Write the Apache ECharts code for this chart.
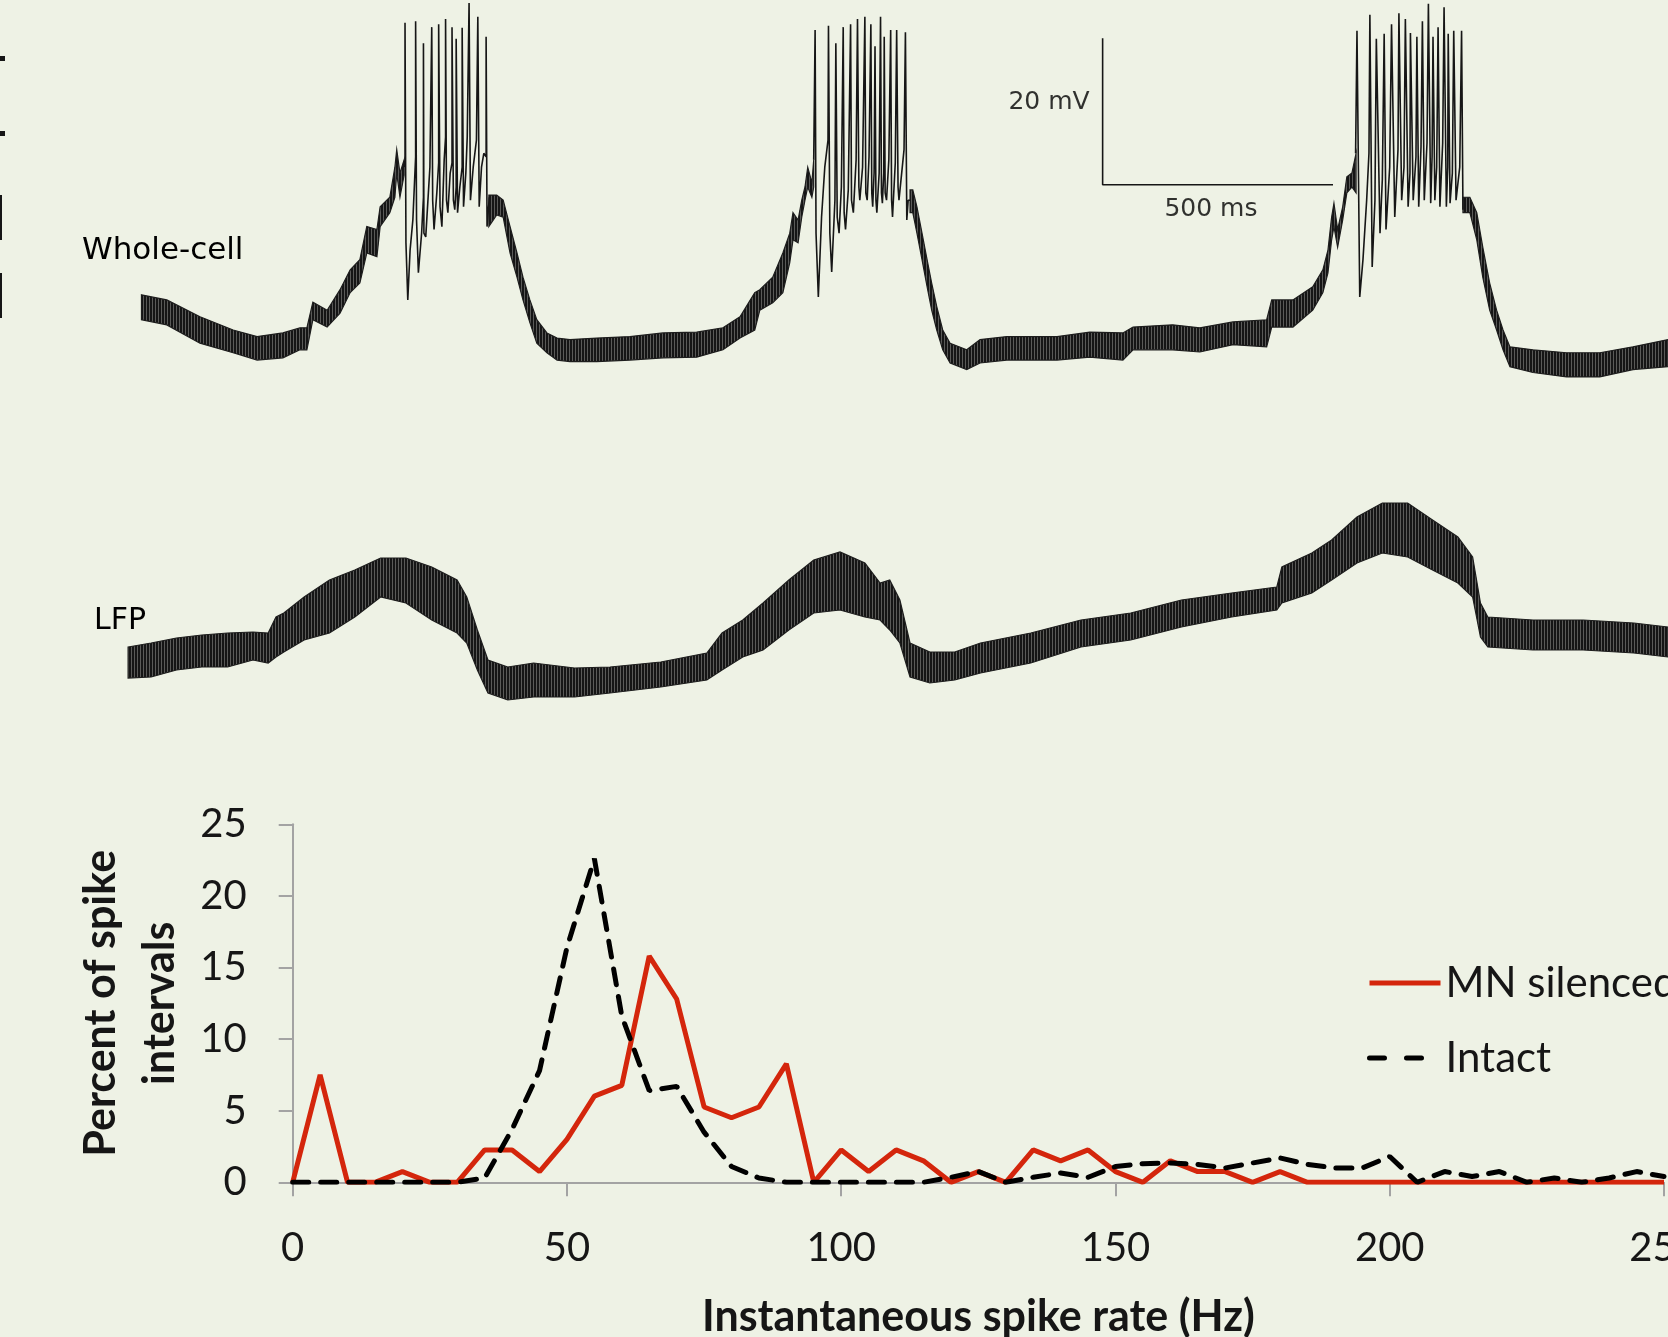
<!DOCTYPE html>
<html>
<head>
<meta charset="utf-8">
<script src="https://cdn.jsdelivr.net/npm/echarts@6/dist/echarts.min.js"></script>
<style>
html, body { margin: 0; padding: 0; background: #eef2e5; }
#main { width: 1668px; height: 1337px; }
</style>
</head>
<body>
<div id="main"></div>
<script>
// whole-cell recording: noisy band segments [ms, low mV, high mV]
var wcBands = [
    [[307,-43.6,-40.2],[362,-44.3,-40.9],[434,-46.8,-43.2],[506,-48.1,-45.0],[558,-49.1,-45.9],[614,-48.8,-45.4],[651,-47.7,-44.7],[666,-47.7,-44.7],[679,-43.6,-41.2],[710,-44.6,-42.3],[738,-42.7,-39.5],[760,-39.9,-36.8],[781,-38.6,-35.4],[796,-34.5,-30.9],[818,-35.0,-31.3],[825,-30.9,-28.2],[846,-29.0,-26.9],[857,-26.9,-22.8],[861,-23.6,-20.4],[868,-26.9,-23.6],[877,-23.9,-21.8]],
    [[1061,-30.9,-26.6],[1078,-29.3,-26.6],[1092,-29.6,-27.3],[1107,-34.5,-30.9],[1122,-37.8,-34.5],[1135,-40.9,-37.8],[1150,-44.0,-40.9],[1165,-46.8,-43.6],[1187,-48.1,-45.4],[1209,-49.1,-46.1],[1237,-49.3,-46.3],[1295,-49.3,-46.1],[1367,-49.1,-45.9],[1439,-48.8,-45.4],[1512,-48.7,-45.3],[1569,-47.7,-44.7],[1606,-46.1,-43.2],[1638,-45.0,-39.9],[1649,-42.3,-39.5],[1677,-41.3,-37.8],[1699,-39.9,-34.5],[1714,-35.8,-31.8],[1721,-32.7,-29.0],[1732,-33.1,-30.0],[1740,-29.6,-27.3],[1747,-27.3,-25.5],[1753,-25.5,-22.8],[1762,-26.9,-24.9],[1766,-25.5,-21.8]],
    [[1975,-29.0,-25.9],[1981,-29.0,-25.9],[1990,-31.8,-28.2],[2001,-35.4,-31.8],[2012,-39.1,-35.4],[2022,-42.3,-38.6],[2033,-45.0,-41.8],[2046,-47.7,-45.0],[2062,-49.5,-46.8],[2098,-50.4,-47.7],[2127,-49.5,-46.3],[2185,-49.1,-45.9],[2294,-49.1,-45.9],[2365,-48.7,-45.3],[2437,-49.1,-45.4],[2459,-47.7,-44.6],[2545,-47.7,-44.3],[2604,-48.0,-44.7],[2676,-47.0,-43.9],[2749,-47.3,-43.6],[2760,-44.6,-40.9],[2806,-44.6,-40.9],[2849,-42.3,-39.1],[2871,-39.9,-36.8],[2882,-37.2,-34.1],[2890,-32.7,-29.6],[2895,-30.9,-27.7],[2903,-33.7,-31.3],[2914,-30.0,-28.2],[2923,-26.3,-24.1],[2934,-25.5,-23.6],[2943,-26.3,-20.9]],
    [[3175,-29.0,-26.9],[3190,-29.0,-26.9],[3205,-32.7,-29.0],[3218,-37.8,-33.7],[3233,-42.3,-38.6],[3248,-45.0,-42.3],[3262,-47.7,-45.0],[3277,-50.0,-47.3],[3327,-50.8,-47.7],[3400,-51.4,-48.1],[3472,-51.4,-48.1],[3544,-50.4,-47.3],[3620,-50.0,-46.3]]
];

// spike bursts [ms, mV]
var burst1 = [[877,-22.8],[879,-21.8],[879,-3.1],[881,-33.1],[885,-40.9],[890,-34.1],[896,-30.0],[902,-21.4],[902,-2.9],[904,-30.0],[908,-37.2],[915,-31.8],[919,-26.9],[919,-5.9],[920,-31.8],[924,-32.3],[933,-22.8],[937,-22.8],[937,-3.7],[939,-27.3],[942,-31.3],[948,-26.3],[952,-22.2],[952,-3.3],[955,-28.2],[959,-30.9],[964,-21.8],[967,-18.7],[967,-2.6],[969,-27.3],[972,-29.0],[977,-23.6],[981,-22.2],[981,-3.7],[984,-27.3],[987,-28.6],[990,-25.5],[990,-5.3],[993,-29.0],[998,-25.5],[1003,-22.8],[1003,-3.8],[1006,-28.2],[1011,-23.6],[1014,-18.7],[1018,-18.7],[1018,-0.4],[1021,-27.3],[1027,-22.8],[1034,-19.1],[1037,-19.1],[1037,-2.3],[1040,-28.2],[1045,-22.8],[1050,-20.9],[1055,-21.4],[1055,-5.0],[1057,-30.9],[1062,-26.9]];
var burst2 = [[1766,-21.8],[1769,-21.8],[1769,-4.1],[1771,-31.8],[1776,-40.5],[1783,-29.6],[1790,-22.8],[1797,-19.1],[1798,-3.5],[1801,-31.8],[1805,-37.1],[1812,-27.3],[1814,-5.9],[1817,-29.6],[1821,-31.8],[1826,-25.5],[1830,-3.7],[1832,-29.0],[1835,-31.3],[1841,-25.9],[1846,-3.3],[1848,-27.3],[1852,-29.0],[1858,-21.8],[1861,-2.6],[1864,-25.5],[1866,-27.3],[1872,-22.8],[1877,-2.3],[1879,-26.3],[1882,-27.3],[1886,-21.4],[1890,-3.3],[1892,-26.3],[1894,-28.2],[1897,-23.6],[1899,-6.3],[1901,-27.3],[1903,-29.0],[1908,-23.6],[1911,-2.3],[1913,-26.3],[1915,-27.7],[1918,-23.6],[1919,-5.0],[1921,-26.3],[1924,-27.3],[1929,-21.8],[1933,-4.1],[1935,-27.3],[1937,-29.6],[1943,-22.2],[1946,-4.1],[1949,-25.5],[1951,-27.3],[1962,-20.4],[1965,-4.4],[1968,-30.0],[1971,-27.3],[1975,-27.3]];
var burst3 = [[2942,-20.9],[2945,-4.2],[2951,-40.5],[2958,-35.4],[2966,-27.3],[2971,-20.9],[2973,-2.0],[2978,-36.4],[2984,-27.3],[2987,-5.3],[2995,-31.8],[3000,-24.5],[3004,-4.6],[3008,-31.3],[3016,-22.8],[3020,-3.3],[3027,-29.6],[3034,-20.4],[3036,-1.8],[3042,-27.3],[3047,-22.8],[3050,-2.6],[3056,-28.2],[3060,-23.6],[3061,-4.5],[3067,-27.3],[3073,-21.4],[3075,-5.0],[3079,-28.2],[3084,-20.0],[3087,-2.9],[3091,-27.3],[3097,-19.5],[3100,-0.5],[3105,-27.7],[3108,-21.4],[3110,-5.0],[3114,-27.3],[3118,-22.8],[3121,-3.7],[3125,-28.2],[3131,-19.5],[3134,-1.0],[3139,-28.2],[3142,-22.8],[3143,-4.6],[3147,-27.7],[3152,-23.6],[3155,-4.2],[3160,-27.3],[3168,-22.8],[3172,-4.2],[3175,-28.6]];

// LFP band [ms, low, high]
var lfpBand = [[278,26,41.5],[328,26.5,43.5],[383,30,46],[438,31.5,47.5],[494,31.5,48.5],[549,35,49],[582,33.5,48.5],[599,36.5,56.5],[616,39,58.5],[660,45,66.5],[715,48.5,75],[770,56.5,80],[826,66.5,86],[881,63.5,86],[937,55,81.5],[992,48.5,75],[1013,43.5,66.5],[1036,30,50],[1059,18.5,35],[1102,15,31.5],[1158,16.5,33.5],[1247,16.5,31],[1324,18.5,31.5],[1434,21.5,34],[1534,25,38.5],[1567,30,48.5],[1612,36.5,55],[1656,40,63.5],[1712,50,75],[1766,58.5,85],[1823,60,89],[1877,56.5,83.5],[1910,55,73.5],[1931,50,75],[1953,43.5,65],[1975,26.5,43.5],[2018,23.5,39],[2072,25,39],[2128,28.5,43.5],[2237,33.5,48.5],[2346,41.5,55],[2454,45,58.5],[2564,51.5,65],[2673,56.5,68.5],[2771,60,71.5],[2782,63.5,81.5],[2847,68.5,88.5],[2890,75,95],[2945,83.5,106.5],[3000,88.5,113.5],[3055,86.5,113.5],[3109,80,105],[3164,73.5,96.5],[3196,66.5,86.5],[3213,46.5,63.5],[3229,41.5,56.5],[3327,40,55],[3436,40,55],[3546,38.5,53.5],[3620,36.5,51.5]];

// scale bar: 20 mV / 500 ms
var scaleBar = [[2393,-5.2],[2393,-25.2],[2893,-25.2]];

// histogram of instantaneous spike rate
var rates = [0,5,10,15,20,25,30,35,40,45,50,55,60,65,70,75,80,85,90,95,100,105,110,115,120,125,130,135,140,145,150,155,160,165,170,175,180,185,190,195,200,205,210,215,220,225,230,235,240,245,250];
var mnSilenced = [0,7.5,0,0,0.75,0,0,2.26,2.26,0.75,3.0,6.02,6.77,15.8,12.8,5.26,4.51,5.26,8.27,0,2.26,0.75,2.26,1.5,0,0.75,0,2.26,1.5,2.26,0.75,0,1.5,0.75,0.75,0,0.75,0,0,0,0,0,0,0,0,0,0,0,0,0,0];
var intact = [0,0,0,0,0,0,0,0.3,3.7,7.8,16.4,22.6,11.6,6.4,6.7,3.5,1.1,0.3,0,0,0,0,0,0,0.35,0.75,0,0.35,0.65,0.35,1.1,1.3,1.35,1.25,1.0,1.35,1.7,1.25,1.0,1.0,1.8,0,0.75,0.4,0.75,0,0.3,0,0.3,0.75,0.4];

var ink = '#161616';
var red = '#d4260c';
var chartFont = 'Lato';

// vertical hatch to mimic the dense noise of the recordings
var hatch = document.createElement('canvas');
hatch.width = 3;
hatch.height = 2;
var hctx = hatch.getContext('2d');
hctx.fillStyle = '#151515';
hctx.fillRect(0, 0, 2, 2);
hctx.fillStyle = '#5a5a58';
hctx.fillRect(2, 0, 1, 2);

function pairs(xs, ys) {
    return xs.map(function (x, i) { return [x, ys[i]]; });
}

function bandSeries(bands, axis) {
    return {
        type: 'custom',
        xAxisIndex: axis,
        yAxisIndex: axis,
        silent: true,
        clip: false,
        data: bands.map(function (seg, i) { return [seg[0][0], seg[0][1], i]; }),
        renderItem: function (params, api) {
            var seg = bands[api.value(2)];
            var top = seg.map(function (p) { return api.coord([p[0], p[2]]); });
            var bottom = seg.map(function (p) { return api.coord([p[0], p[1]]); }).reverse();
            return {
                type: 'polygon',
                shape: { points: top.concat(bottom) },
                style: { fill: { image: hatch, repeat: 'repeat' }, stroke: '#1d1d1d', lineWidth: 1.2 }
            };
        }
    };
}

function traceLine(data) {
    return {
        type: 'line',
        xAxisIndex: 0,
        yAxisIndex: 0,
        data: data,
        symbol: 'none',
        silent: true,
        clip: false,
        lineStyle: { color: ink, width: 1.6 }
    };
}

var myChart = echarts.init(document.getElementById('main'));

var option = {
    backgroundColor: '#eef2e5',
    animation: false,
    grid: [
        { left: 0, top: 0, width: 1668, height: 440, outerBoundsMode: 'none' },
        { left: 0, top: 470, width: 1668, height: 260, outerBoundsMode: 'none' },
        { left: 292.7, top: 824.3, width: 1371.3, height: 358, outerBoundsMode: 'none' }
    ],
    xAxis: [
        { gridIndex: 0, type: 'value', min: 0, max: 3620, show: false },
        { gridIndex: 1, type: 'value', min: 0, max: 3620, show: false },
        {
            gridIndex: 2, type: 'value', min: 0, max: 250, interval: 50,
            name: 'Instantaneous spike rate (Hz)',
            nameLocation: 'middle', nameGap: 113,
            nameTextStyle: { fontFamily: chartFont, fontWeight: 'bold', fontSize: 43, color: ink },
            axisLine: { lineStyle: { color: '#a3a3a3', width: 2 } },
            axisTick: { show: true, inside: false, length: 14, lineStyle: { color: '#a3a3a3', width: 2 } },
            axisLabel: { margin: 46, fontFamily: chartFont, fontSize: 40, color: ink, showMaxLabel: true },
            splitLine: { show: false }
        }
    ],
    yAxis: [
        { gridIndex: 0, type: 'value', min: -60, max: 0, show: false },
        { gridIndex: 1, type: 'value', min: 0, max: 130, show: false },
        {
            gridIndex: 2, type: 'value', min: 0, max: 25, interval: 5,
            name: 'Percent of spike\nintervals',
            nameLocation: 'middle', nameGap: 83, nameRotate: 90,
            nameTextStyle: { fontFamily: chartFont, fontWeight: 'bold', fontSize: 43, lineHeight: 59, color: ink },
            axisLine: { show: true, lineStyle: { color: '#a3a3a3', width: 2 } },
            axisTick: { show: true, inside: false, length: 14, lineStyle: { color: '#a3a3a3', width: 2 } },
            axisLabel: { margin: 46, fontFamily: chartFont, fontSize: 40, color: ink },
            splitLine: { show: false }
        }
    ],
    legend: {
        orient: 'vertical',
        left: 1362,
        top: 957,
        itemWidth: 71,
        itemHeight: 12,
        itemGap: 33,
        itemStyle: { opacity: 0 },
        lineStyle: { width: 5, opacity: 1 },
        textStyle: { fontFamily: chartFont, fontSize: 42, color: ink },
        data: [
            { name: 'MN silenced', lineStyle: { width: 5, color: red, opacity: 1 } },
            { name: 'Intact', lineStyle: { width: 5, color: '#000', type: [15, 22], cap: 'round', opacity: 1 } }
        ]
    },
    graphic: [
        { type: 'text', left: 82, top: 235, style: { text: 'Whole-cell', font: '31px "DejaVu Sans"', fill: '#000' } },
        { type: 'text', left: 94, top: 606, style: { text: 'LFP', font: '30px "DejaVu Sans"', fill: '#000' } },
        { type: 'rect', shape: { x: 0, y: 195, width: 2, height: 45 }, style: { fill: ink } },
        { type: 'rect', shape: { x: 0, y: 273, width: 2, height: 45 }, style: { fill: ink } },
        { type: 'rect', shape: { x: 0, y: 56, width: 5, height: 5 }, style: { fill: ink } },
        { type: 'rect', shape: { x: 0, y: 131, width: 5, height: 5 }, style: { fill: ink } }
    ],
    series: [
        bandSeries(wcBands, 0),
        traceLine(burst1),
        traceLine(burst2),
        traceLine(burst3),
        {
            type: 'line',
            xAxisIndex: 0,
            yAxisIndex: 0,
            data: scaleBar,
            symbol: 'none',
            silent: true,
            lineStyle: { color: ink, width: 1.6 }
        },
        {
            type: 'scatter',
            xAxisIndex: 0,
            yAxisIndex: 0,
            symbolSize: 0,
            silent: true,
            data: [
                { value: [2393, -14.0], label: { show: true, position: 'left', distance: 13, formatter: '20 mV' } },
                { value: [2628, -25.2], label: { show: true, position: 'bottom', distance: 12, formatter: '500 ms' } }
            ],
            label: { fontFamily: 'DejaVu Sans', fontSize: 25, color: '#000' }
        },
        bandSeries([lfpBand], 1),
        {
            name: 'MN silenced',
            type: 'line',
            xAxisIndex: 2,
            yAxisIndex: 2,
            data: pairs(rates, mnSilenced),
            symbol: 'none',
            lineStyle: { color: red, width: 5 },
            itemStyle: { color: red }
        },
        {
            name: 'Intact',
            type: 'line',
            xAxisIndex: 2,
            yAxisIndex: 2,
            data: pairs(rates, intact),
            symbol: 'none',
            lineStyle: { color: '#000', width: 5, type: [16, 12], cap: 'round' },
            itemStyle: { color: '#000' }
        }
    ]
};

myChart.setOption(option);
</script>
</body>
</html>
